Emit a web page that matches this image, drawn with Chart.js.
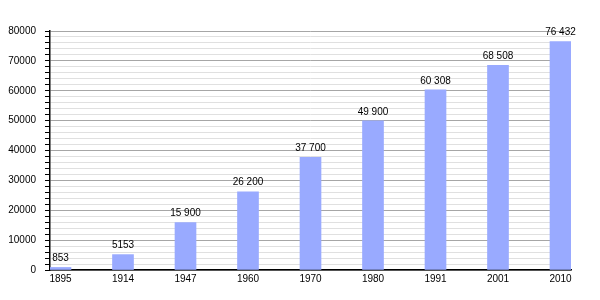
<!DOCTYPE html>
<html>
<head>
<meta charset="utf-8">
<script src="https://cdn.jsdelivr.net/npm/chart.js@4"></script>
<style>
  body { margin: 0; background: #fff; }
</style>
</head>
<body>
<canvas id="popChart" width="600" height="300"></canvas>
<script>
// population by census year
const years = ['1895', '1914', '1947', '1960', '1970', '1980', '1991', '2001', '2010'];
const population = [853, 5153, 15900, 26200, 37700, 49900, 60308, 68508, 76432];
const valueLabels = ['853', '5153', '15 900', '26 200', '37 700', '49 900', '60 308', '68 508', '76 432'];

const FONT = { family: '"Liberation Sans", Arial, sans-serif', size: 10 };

// writes the value above each bar
const valueLabelPlugin = {
    id: 'valueLabels',
    afterDatasetsDraw(chart) {
        const ctx = chart.ctx;
        const meta = chart.getDatasetMeta(0);
        ctx.save();
        ctx.font = FONT.size + 'px ' + FONT.family;
        ctx.fillStyle = '#000';
        ctx.textAlign = 'center';
        ctx.textBaseline = 'bottom';
        meta.data.forEach((bar, i) => {
            ctx.fillText(valueLabels[i], bar.x, bar.y - 4);
        });
        ctx.restore();
    }
};

const ctx = document.getElementById('popChart').getContext('2d');
new Chart(ctx, {
    type: 'bar',
    data: {
        datasets: [{
            data: population.map((v, i) => ({ x: i, y: v })),
            backgroundColor: '#99aaff',
            barThickness: 21
        }]
    },
    options: {
        responsive: false,
        animation: false,
        layout: { padding: { left: 0, right: 29, top: 31, bottom: 8 } },
        plugins: {
            legend: { display: false },
            tooltip: { enabled: false }
        },
        scales: {
            x: {
                type: 'linear',
                offset: false,
                min: -0.168,
                max: 8.168,
                afterBuildTicks: (scale) => {
                    scale.ticks = years.map((y, i) => ({ value: i }));
                },
                afterFit: (scale) => { scale.height = 22; },
                grid: { display: false, drawTicks: false },
                border: { display: true, color: '#000', width: 1.5 },
                ticks: {
                    autoSkip: false,
                    maxRotation: 0,
                    padding: 3,
                    color: '#000',
                    font: FONT,
                    callback: (value) => years[value] ?? ''
                }
            },
            y: {
                min: 0,
                max: 80000,
                afterFit: (scale) => { scale.width = 50; },
                border: { display: true, color: '#000', width: 1.5 },
                grid: {
                    color: (c) => c.tick && c.tick.value % 10000 === 0 ? '#a6a6a6' : '#e0e0e0',
                    tickColor: '#000',
                    tickLength: 5
                },
                ticks: {
                    stepSize: 2000,
                    autoSkip: false,
                    padding: 9,
                    color: '#000',
                    font: FONT,
                    callback: (value) => value % 10000 === 0 ? String(value) : ''
                }
            }
        }
    },
    plugins: [valueLabelPlugin]
});
</script>
</body>
</html>
